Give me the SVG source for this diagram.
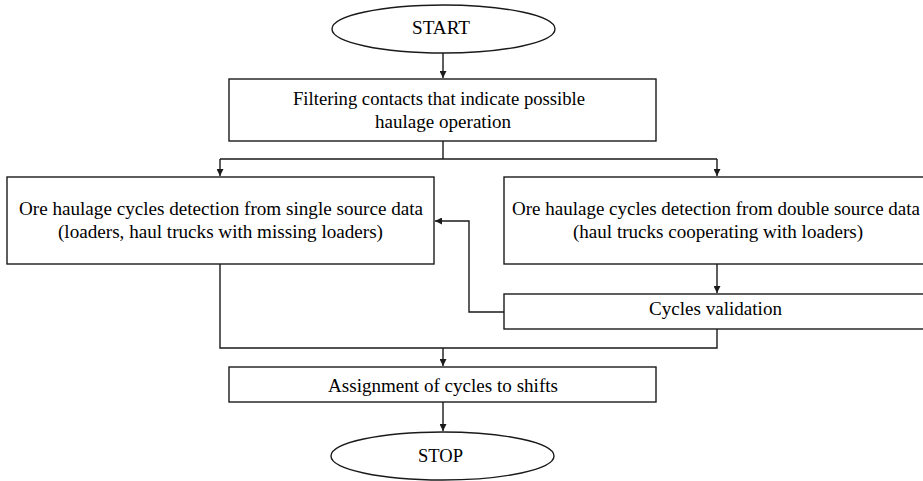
<svg xmlns="http://www.w3.org/2000/svg" width="923" height="481" viewBox="0 0 923 481">
<style>
.s{fill:#fff;stroke:#1a1a1a;stroke-width:1.4}
.c{fill:none;stroke:#1a1a1a;stroke-width:1.4}
</style>
<defs>
<marker id="a" viewBox="0 0 10 10" refX="10" refY="5" markerWidth="7" markerHeight="7" markerUnits="userSpaceOnUse" orient="auto">
<path d="M0,0 L10,5 L0,10 z" fill="#1a1a1a"/>
</marker>
</defs>
<rect width="923" height="481" fill="#fff"/>
<g id="connectors">
<path class="c" d="M443,53 V78" marker-end="url(#a)"/>
<path class="c" d="M443,141 V159 M220,159 H717"/>
<path class="c" d="M220,159 V176" marker-end="url(#a)"/>
<path class="c" d="M717,159 V176" marker-end="url(#a)"/>
<path class="c" d="M717,264 V293" marker-end="url(#a)"/>
<path class="c" d="M504,312 H469 V221 H435" marker-end="url(#a)"/>
<path class="c" d="M220,264 V348 H717 V329"/>
<path class="c" d="M443,348 V366" marker-end="url(#a)"/>
<path class="c" d="M443,402 V431" marker-end="url(#a)"/>
</g>
<g id="start">
<ellipse class="s" cx="443.5" cy="29" rx="111.5" ry="24"/>
<text font-family="Liberation Serif" font-size="18" x="412" y="34" textLength="58" lengthAdjust="spacingAndGlyphs">START</text>
</g>
<g id="filter">
<rect class="s" x="229" y="79" width="427" height="62"/>
<text font-family="Liberation Serif" font-size="18" x="293" y="105" textLength="292" lengthAdjust="spacingAndGlyphs">Filtering contacts that indicate possible</text>
<text font-family="Liberation Serif" font-size="18" x="375" y="128" textLength="136" lengthAdjust="spacingAndGlyphs">haulage operation</text>
</g>
<g id="single">
<rect class="s" x="7" y="177" width="427" height="87"/>
<text font-family="Liberation Serif" font-size="18" x="19" y="215" textLength="404" lengthAdjust="spacingAndGlyphs">Ore haulage cycles detection from single source data</text>
<text font-family="Liberation Serif" font-size="18" x="58" y="238" textLength="325" lengthAdjust="spacingAndGlyphs">(loaders, haul trucks with missing loaders)</text>
</g>
<g id="double">
<rect class="s" x="504" y="177" width="422" height="87"/>
<text font-family="Liberation Serif" font-size="18" x="512" y="215" textLength="408" lengthAdjust="spacingAndGlyphs">Ore haulage cycles detection from double source data</text>
<text font-family="Liberation Serif" font-size="18" x="573" y="238" textLength="290" lengthAdjust="spacingAndGlyphs">(haul trucks cooperating with loaders)</text>
</g>
<g id="validation">
<rect class="s" x="504" y="294" width="422" height="35"/>
<text font-family="Liberation Serif" font-size="18" x="649" y="315" textLength="133" lengthAdjust="spacingAndGlyphs">Cycles validation</text>
</g>
<g id="assign">
<rect class="s" x="229" y="367" width="427" height="35"/>
<text font-family="Liberation Serif" font-size="18" x="328" y="392" textLength="230" lengthAdjust="spacingAndGlyphs">Assignment of cycles to shifts</text>
</g>
<g id="stop">
<ellipse class="s" cx="442.5" cy="456" rx="111.5" ry="24"/>
<text font-family="Liberation Serif" font-size="18" x="418" y="462" textLength="45" lengthAdjust="spacingAndGlyphs">STOP</text>
</g>
</svg>
